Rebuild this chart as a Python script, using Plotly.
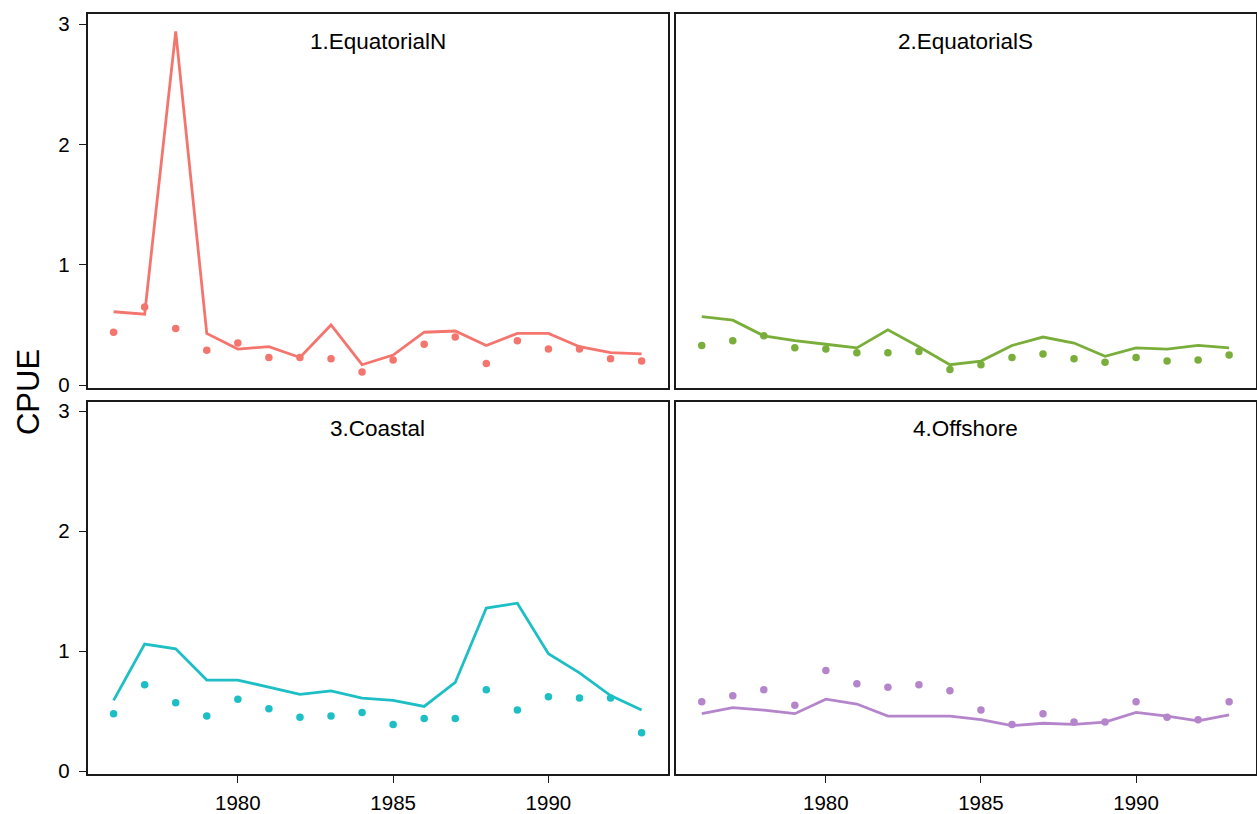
import plotly.graph_objects as go

# Survey years
years = list(range(1976, 1994))

# Region names, one per panel
regions = ["1.EquatorialN", "2.EquatorialS", "3.Coastal", "4.Offshore"]

# Fitted CPUE (lines)
fit_equatorial_n = [0.61, 0.59, 2.94, 0.43, 0.30, 0.32, 0.23, 0.50, 0.17, 0.25,
                    0.44, 0.45, 0.33, 0.43, 0.43, 0.32, 0.27, 0.26]
fit_equatorial_s = [0.57, 0.54, 0.41, 0.37, 0.34, 0.31, 0.46, 0.32, 0.17, 0.20,
                    0.33, 0.40, 0.35, 0.24, 0.31, 0.30, 0.33, 0.31]
fit_coastal = [0.59, 1.06, 1.02, 0.76, 0.76, 0.70, 0.64, 0.67, 0.61, 0.59,
               0.54, 0.74, 1.36, 1.40, 0.98, 0.82, 0.63, 0.51]
fit_offshore = [0.48, 0.53, 0.51, 0.48, 0.60, 0.56, 0.46, 0.46, 0.46, 0.43,
                0.38, 0.40, 0.39, 0.41, 0.49, 0.46, 0.42, 0.47]

# Observed CPUE (points)
obs_equatorial_n = [0.44, 0.65, 0.47, 0.29, 0.35, 0.23, 0.23, 0.22, 0.11, 0.21,
                    0.34, 0.40, 0.18, 0.37, 0.30, 0.30, 0.22, 0.20]
obs_equatorial_s = [0.33, 0.37, 0.41, 0.31, 0.30, 0.27, 0.27, 0.28, 0.13, 0.17,
                    0.23, 0.26, 0.22, 0.19, 0.23, 0.20, 0.21, 0.25]
obs_coastal = [0.48, 0.72, 0.57, 0.46, 0.60, 0.52, 0.45, 0.46, 0.49, 0.39,
               0.44, 0.44, 0.68, 0.51, 0.62, 0.61, 0.61, 0.32]
obs_offshore = [0.58, 0.63, 0.68, 0.55, 0.84, 0.73, 0.70, 0.72, 0.67, 0.51,
                0.39, 0.48, 0.41, 0.41, 0.58, 0.45, 0.43, 0.58]

fits = [fit_equatorial_n, fit_equatorial_s, fit_coastal, fit_offshore]
obs = [obs_equatorial_n, obs_equatorial_s, obs_coastal, obs_offshore]
colors = ["#F4756D", "#7AAE3A", "#1EBFC4", "#B585CC"]

x_ticks = [1980, 1985, 1990]
y_ticks = [0, 1, 2, 3]

W, H = 1257, 814
HV = 807  # vertical reference used for panel placement
# panel boxes in pixels: (left, right, top, bottom)
boxes = [(87.5, 668.0, 12.5, 388.0), (675.7, 1255.5, 12.5, 388.0),
         (87.5, 668.0, 401.5, 776.0), (675.7, 1255.5, 401.5, 776.0)]

fig = go.Figure()
font = "Liberation Sans, Arial, sans-serif"
layout = dict(width=W, height=H, margin=dict(l=0, r=0, t=0, b=0),
              plot_bgcolor="white", paper_bgcolor="white", showlegend=False,
              font=dict(family=font, color="black"))
annotations = []

for i in range(4):
    n = i + 1
    xa = "x" if n == 1 else f"x{n}"
    ya = "y" if n == 1 else f"y{n}"
    fig.add_trace(go.Scatter(x=years, y=fits[i], mode="lines", xaxis=xa, yaxis=ya,
                             line=dict(color=colors[i], width=2.8)))
    fig.add_trace(go.Scatter(x=years, y=obs[i], mode="markers", xaxis=xa, yaxis=ya,
                             marker=dict(color=colors[i], size=7.5, line=dict(width=0))))
    l, r, t, b = boxes[i]
    bottom_row = i >= 2
    left_col = i % 2 == 0
    xkey = "xaxis" if n == 1 else f"xaxis{n}"
    ykey = "yaxis" if n == 1 else f"yaxis{n}"
    layout[xkey] = dict(domain=[l / W, r / W], anchor=ya, range=[1975.16, 1993.85],
                        showgrid=False, zeroline=False, showline=True, mirror=True,
                        linecolor="#1a1a1a", linewidth=1.6,
                        tickvals=x_ticks if bottom_row else [],
                        ticks="outside" if bottom_row else "", ticklen=7,
                        tickwidth=1.4, tickcolor="#1a1a1a",
                        showticklabels=bottom_row, ticklabelstandoff=2,
                        tickfont=dict(size=20.5, family=font, color="black"))
    layout[ykey] = dict(domain=[max(0, 1 - b / HV), 1 - t / HV], anchor=xa,
                        range=[-0.024, 3.08],
                        showgrid=False, zeroline=False, showline=True, mirror=True,
                        linecolor="#1a1a1a", linewidth=1.6,
                        tickvals=y_ticks if left_col else [],
                        ticks="outside" if left_col else "", ticklen=7,
                        tickwidth=1.4, tickcolor="#1a1a1a",
                        showticklabels=left_col, ticklabelstandoff=5,
                        tickfont=dict(size=20.5, family=font, color="black"))
    annotations.append(dict(text=regions[i], xref="paper", yref="paper",
                            x=(l + r) / 2 / W, y=1 - (t + 27) / HV,
                            xanchor="center", yanchor="middle", showarrow=False,
                            font=dict(size=22.5, family=font, color="black")))

annotations.append(dict(text="CPUE", xref="paper", yref="paper", x=28 / W,
                        y=1 - 392 / HV, xanchor="center", yanchor="middle",
                        textangle=-90, showarrow=False,
                        font=dict(size=31, family=font, color="black")))
layout["annotations"] = annotations
fig.update_layout(**layout)
fig.write_html("out.html")
